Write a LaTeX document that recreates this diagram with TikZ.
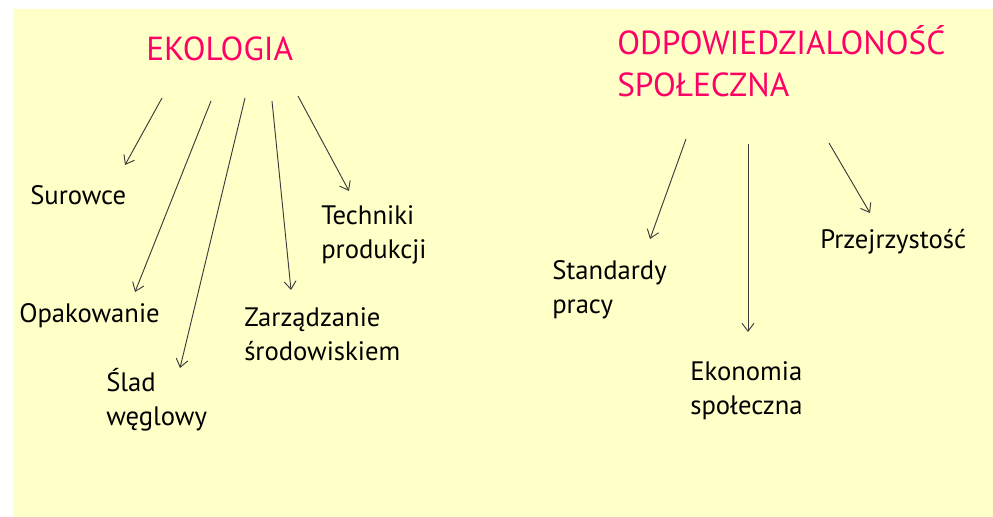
\documentclass[tikz,border=0pt]{standalone}
\usepackage{fontspec}
\setmainfont{PT Sans}
\usetikzlibrary{arrows.meta}
\definecolor{bgyellow}{RGB}{255,255,200}
\definecolor{titlepink}{RGB}{255,0,102}
\definecolor{arrowgray}{RGB}{60,60,60}
\begin{document}
\begin{tikzpicture}[x=0.75pt,y=-0.75pt,
  title/.style={text=titlepink,font=\fontsize{25}{30}\selectfont,anchor=base west,inner sep=0pt,align=left},
  label/.style={text=black,font=\fontsize{20}{24}\selectfont,anchor=base west,inner sep=0pt,align=left},
  conn/.style={draw=arrowgray,line width=0.7pt,-{Straight Barb[length=6pt,width=9pt]}}]
\useasboundingbox (0,0) rectangle (993,517);
\fill[bgyellow] (13,9) rectangle (993,517);
% titles (base anchor = baseline of last line)
\node[title] (eko) at (146,61) {EKOLOGIA};
\node[title] (odp) at (617,97) {ODPOWIEDZIALONOŚĆ\\[2pt]SPOŁECZNA};
% left labels
\node[label] (sur) at (30,204) {Surowce};
\node[label] (tech) at (321,258) {Techniki\\[1pt]produkcji};
\node[label] (opak) at (19,322) {Opakowanie};
\node[label] (zarz) at (244,360) {Zarządzanie\\[1pt]środowiskiem};
\node[label] (slad) at (106,425) {Ślad\\[1pt]węglowy};
% right labels
\node[label] (stan) at (552,313) {Standardy\\[1pt]pracy};
\node[label] (przej) at (820,248) {Przejrzystość};
\node[label] (ekon) at (690,414) {Ekonomia\\[1pt]społeczna};
% connector endpoints
\coordinate (s1) at (162,98);  \coordinate (e1) at (125,165);
\coordinate (s2) at (211,101); \coordinate (e2) at (135,292);
\coordinate (s3) at (245,98);  \coordinate (e3) at (180,368);
\coordinate (s4) at (272,101); \coordinate (e4) at (291,290);
\coordinate (s5) at (298,96);  \coordinate (e5) at (349,191);
\coordinate (s6) at (686,139); \coordinate (e6) at (650,239);
\coordinate (s7) at (748,144); \coordinate (e7) at (748,332);
\coordinate (s8) at (829,143); \coordinate (e8) at (870,213);
\foreach \i in {1,...,8} \draw[conn] (s\i) -- (e\i);
\end{tikzpicture}
\end{document}
